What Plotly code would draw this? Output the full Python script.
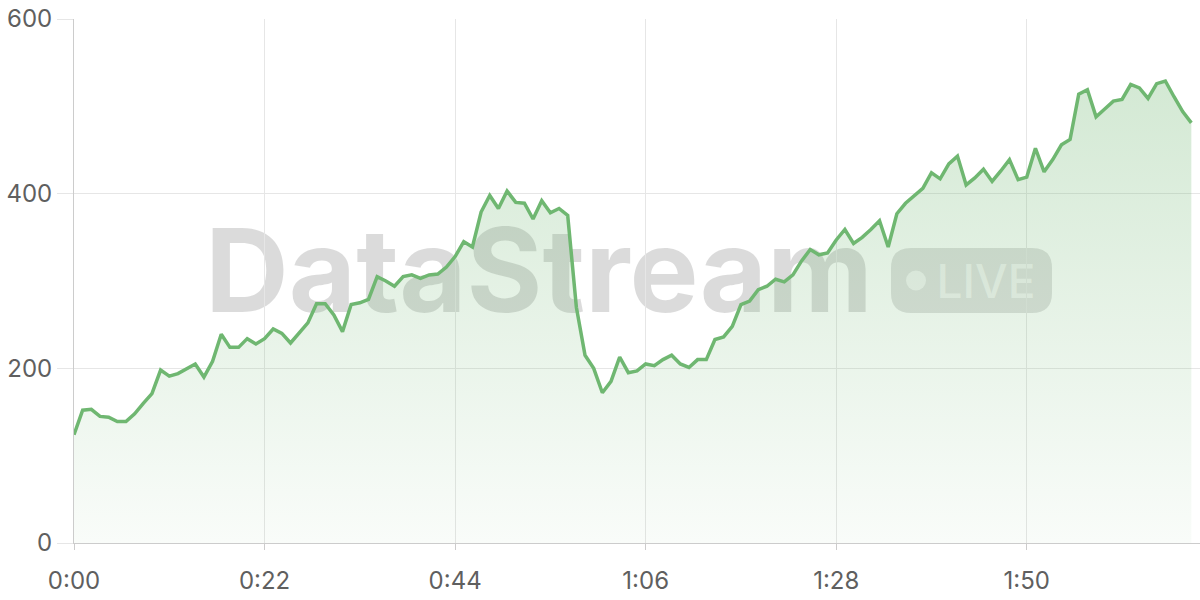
import plotly.graph_objects as go

# elapsed time in seconds (one sample per second)
seconds = list(range(130))

values = [
    124, 152, 153, 145, 144, 139, 139, 148, 160, 171,
    198, 191, 194, 199, 205, 190, 208, 239, 224, 224,
    234, 228, 234, 245, 240, 229, 240, 252, 274, 274,
    261, 242, 273, 275, 279, 305, 300, 294, 305, 307,
    303, 307, 308, 316, 328, 345, 339, 379, 398, 383,
    403, 390, 389, 371, 392, 378, 383, 375, 270, 215,
    200, 172, 185, 213, 195, 197, 205, 203, 210, 215,
    205, 201, 210, 210, 233, 236, 248, 273, 277, 290,
    294, 302, 299, 307, 323, 336, 330, 332, 347, 359,
    343, 350, 359, 369, 339, 377, 389, 398, 406, 424,
    417, 434, 443, 410, 418, 428, 414, 426, 439, 416,
    419, 452, 425, 439, 456, 462, 514, 519, 488, 497,
    506, 508, 525, 521, 509, 526, 529, 511, 494, 481,
]

x_tick_vals = [0, 22, 44, 66, 88, 110]
x_tick_text = ["0:00", "0:22", "0:44", "1:06", "1:28", "1:50"]
y_tick_vals = [0, 200, 400, 600]

LINE = "#6fb771"
GRID = "#e6e6e6"
AXIS = "#cccccc"
TICKFONT = dict(family="Inter, DejaVu Sans, sans-serif", size=24, color="#5f5f5f")

fig = go.Figure()
fig.add_trace(go.Scatter(
    x=seconds, y=values, mode="lines",
    line=dict(color=LINE, width=3.5),
    fill="tozeroy",
    fillgradient=dict(
        type="vertical",
        colorscale=[[0, "rgba(109,181,111,0.04)"], [1, "rgba(109,181,111,0.30)"]],
    ),
    hoverinfo="skip",
    showlegend=False,
))

W, L, T, B = 1200, 74, 19, 543
PW, PH = W - L, B - T


def px(x):
    return (x - L) / PW


def py(y):
    return (B - y) / PH


def rounded(x0, y0, x1, y1, r):
    X0, X1 = px(x0), px(x1)
    Y0, Y1 = py(y1), py(y0)  # bottom, top in paper
    rx, ry = r / PW, r / PH
    return (f"M {X0+rx},{Y0} L {X1-rx},{Y0} Q {X1},{Y0} {X1},{Y0+ry} "
            f"L {X1},{Y1-ry} Q {X1},{Y1} {X1-rx},{Y1} L {X0+rx},{Y1} "
            f"Q {X0},{Y1} {X0},{Y1-ry} L {X0},{Y0+ry} Q {X0},{Y0} {X0+rx},{Y0} Z")


shapes = [
    # watermark word
    dict(type="rect", xref="paper", yref="paper", layer="between",
         x0=px(188), x1=px(890), y0=py(327), y1=py(205),
         line=dict(width=0), fillcolor="rgba(0,0,0,0)",
         label=dict(text="DataStream", textposition="middle center",
                    font=dict(family="Inter, DejaVu Sans, sans-serif", size=116,
                              color="rgba(0,0,0,0.14)", weight=700))),
    # LIVE badge
    dict(type="path", xref="paper", yref="paper", layer="between",
         path=rounded(891, 248, 1052, 313, 20),
         line=dict(width=0), fillcolor="rgba(0,0,0,0.12)"),
    dict(type="circle", xref="paper", yref="paper", layer="between",
         x0=px(906), x1=px(926), y0=py(290.5), y1=py(270.5),
         line=dict(width=0), fillcolor="rgba(255,255,255,0.6)"),
    dict(type="rect", xref="paper", yref="paper", layer="between",
         x0=px(934), x1=px(1038), y0=py(305), y1=py(255),
         line=dict(width=0), fillcolor="rgba(0,0,0,0)",
         label=dict(text="LIVE", textposition="middle center",
                    font=dict(family="Inter, DejaVu Sans, sans-serif", size=46,
                              color="rgba(255,255,255,0.6)", weight=500))),
]

fig.update_layout(
    width=1200, height=600,
    margin=dict(l=L, r=0, t=T, b=600 - B, autoexpand=False),
    paper_bgcolor="white", plot_bgcolor="white",
    shapes=shapes,
    xaxis=dict(range=[0, 130], tickvals=x_tick_vals, ticktext=x_tick_text,
               showgrid=True, gridcolor=GRID, gridwidth=1,
               showline=True, linecolor=AXIS, linewidth=1,
               ticks="outside", ticklen=6, tickcolor=AXIS,
               ticklabelstandoff=10,
               zeroline=False, tickfont=TICKFONT, fixedrange=True),
    yaxis=dict(range=[0, 600], tickvals=y_tick_vals,
               showgrid=True, gridcolor=GRID, gridwidth=1,
               showline=True, linecolor=AXIS, linewidth=1,
               ticks="outside", ticklen=16, tickcolor=GRID,
               zeroline=False, tickfont=TICKFONT, fixedrange=True),
)

fig.write_html("out.html", config={"displayModeBar": False},
               post_script="document.body.style.margin='0';")
